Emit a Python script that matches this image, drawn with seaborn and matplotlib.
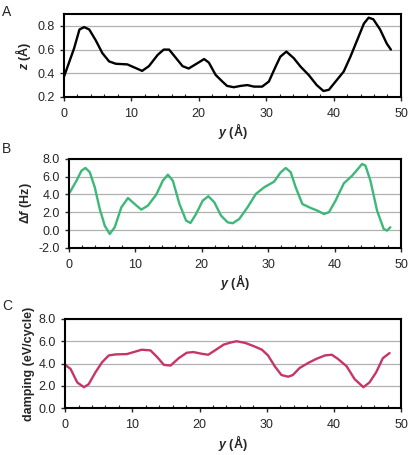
import numpy as np
import pandas as pd
import matplotlib
matplotlib.use('Agg')
import matplotlib.pyplot as plt
from matplotlib.ticker import MultipleLocator
import seaborn as sns

# Panel A: height z along y
y_a = [0, 1.5, 2.3, 3.0, 3.75, 4.7, 5.7, 6.7, 7.7, 9.4, 10.4, 11.6, 12.6, 13.9, 14.8,
       15.6, 16.6, 17.6, 18.5, 19.8, 20.8, 21.5, 22.5, 23.5, 24.2, 25.2, 26.2, 27.2,
       28.2, 29.4, 30.4, 31.4, 32.1, 33.0, 34.1, 35.1, 36.3, 37.5, 38.5, 39.3, 40.3,
       41.5, 42.5, 43.5, 44.5, 45.2, 45.9, 46.9, 47.9, 48.5]
z_a = [0.37, 0.61, 0.77, 0.79, 0.77, 0.68, 0.57, 0.50, 0.48, 0.475, 0.45, 0.42, 0.46,
       0.555, 0.60, 0.60, 0.53, 0.46, 0.44, 0.485, 0.52, 0.49, 0.386, 0.33, 0.293,
       0.282, 0.293, 0.30, 0.287, 0.287, 0.33, 0.456, 0.54, 0.583, 0.527, 0.456, 0.386,
       0.30, 0.25, 0.26, 0.33, 0.414, 0.54, 0.68, 0.82, 0.87, 0.856, 0.77, 0.65, 0.60]

# Panel B: frequency shift
y_b = [0.15, 1.15, 1.9, 2.5, 3.15, 3.9, 4.65, 5.4, 6.15, 6.9, 7.9, 8.9, 9.9, 10.9, 11.9,
       13.15, 14.15, 14.9, 15.65, 16.65, 17.65, 18.3, 19.15, 20.15, 21.0, 21.9, 22.9,
       23.9, 24.65, 25.65, 26.9, 28.15, 29.4, 30.9, 31.9, 32.65, 33.4, 34.15, 35.15,
       36.4, 37.4, 38.4, 39.15, 40.15, 41.4, 42.65, 44.15, 44.65, 45.4, 46.4, 47.4,
       47.9, 48.4]
df_b = [4.24, 5.55, 6.67, 6.97, 6.49, 4.8, 2.37, 0.5, -0.43, 0.32, 2.56, 3.6, 2.93, 2.3,
        2.75, 3.98, 5.55, 6.22, 5.55, 2.93, 1.07, 0.8, 1.81, 3.31, 3.8, 3.12, 1.63, 0.88,
        0.77, 1.25, 2.56, 4.06, 4.8, 5.44, 6.49, 6.97, 6.49, 4.8, 2.93, 2.49, 2.19, 1.81,
        2.0, 3.31, 5.25, 6.11, 7.42, 7.23, 5.55, 2.19, 0.13, -0.05, 0.32]

# Panel C: damping
y_c = [0, 0.8, 1.8, 2.8, 3.5, 4.5, 5.5, 6.5, 7.5, 9.2, 10.2, 11.4, 12.7, 13.7, 14.7,
       15.7, 16.9, 18.1, 19.1, 20.3, 21.3, 22.3, 23.6, 24.6, 25.5, 26.8, 28.0, 29.3,
       30.2, 31.2, 32.2, 33.2, 33.9, 34.9, 36.2, 37.4, 38.7, 39.7, 40.6, 41.9, 43.1,
       44.4, 45.3, 46.3, 47.3, 48.3]
damp_c = [3.88, 3.52, 2.3, 1.88, 2.15, 3.21, 4.12, 4.73, 4.82, 4.85, 5.03, 5.24, 5.18,
          4.58, 3.88, 3.82, 4.48, 4.97, 5.03, 4.88, 4.79, 5.18, 5.7, 5.88, 6.0, 5.85,
          5.58, 5.24, 4.73, 3.76, 2.97, 2.82, 2.97, 3.6, 4.06, 4.42, 4.73, 4.79, 4.42,
          3.76, 2.6, 1.88, 2.3, 3.21, 4.48, 4.94]

sns.set_style('ticks')
plt.rcParams['font.family'] = ['Liberation Sans', 'DejaVu Sans']
plt.rcParams['mathtext.fontset'] = 'custom'
plt.rcParams['mathtext.it'] = 'Liberation Sans:italic:bold'
plt.rcParams['mathtext.rm'] = 'Liberation Sans:bold'

fig = plt.figure(figsize=(4.1, 4.55), dpi=100)
ax_a = fig.add_axes([0.156, 0.787, 0.822, 0.182])
ax_b = fig.add_axes([0.168, 0.455, 0.810, 0.196])
ax_c = fig.add_axes([0.159, 0.103, 0.819, 0.196])

panels = [
    (ax_a, y_a, z_a, 'black', r'$\it{z}$ (Å)', (0.2, 0.9), 0.2),
    (ax_b, y_b, df_b, '#3cb878', r'Δ$\it{f}$ (Hz)', (-2, 8), 2),
    (ax_c, y_c, damp_c, '#c8346a', 'damping (eV/cycle)', (0, 8), 2),
]

for ax, xs, vals, color, ylab, ylim, step in panels:
    data = pd.DataFrame({'y': xs, 'v': vals})
    sns.lineplot(data=data, x='y', y='v', ax=ax, color=color, linewidth=1.7)
    ax.set_xlim(0, 50)
    ax.xaxis.set_major_locator(MultipleLocator(10))
    ax.xaxis.set_minor_locator(MultipleLocator(2))
    ticks = np.arange(ylim[0], ylim[1] + 1e-9, step)
    if ylim[1] == 0.9:
        ticks = ticks[:4]
    ax.set_yticks(ticks)
    ax.set_yticklabels(['{:.1f}'.format(t) for t in ticks])
    ax.set_ylim(*ylim)
    ax.grid(axis='y', color='#b0b0b0', linewidth=0.9)
    ax.set_axisbelow(True)
    for sp in ax.spines.values():
        sp.set_linewidth(1.5)
        sp.set_color('black')
    ax.tick_params(axis='both', which='major', labelsize=9, length=3, width=1)
    ax.tick_params(axis='x', which='major', pad=5)
    ax.tick_params(axis='x', which='minor', direction='in', length=2.5, width=0.8)
    ax.set_xlabel(r'$\it{y}$ (Å)', fontsize=9, fontweight='bold', labelpad=1)
    ax.set_ylabel(ylab, fontsize=9, fontweight='bold', labelpad=3)

fig.text(0.005, 0.99, 'A', fontsize=10, ha='left', va='top')
fig.text(0.005, 0.687, 'B', fontsize=10, ha='left', va='top')
fig.text(0.005, 0.342, 'C', fontsize=10, ha='left', va='top')

fig.savefig('out.png', dpi=100)
